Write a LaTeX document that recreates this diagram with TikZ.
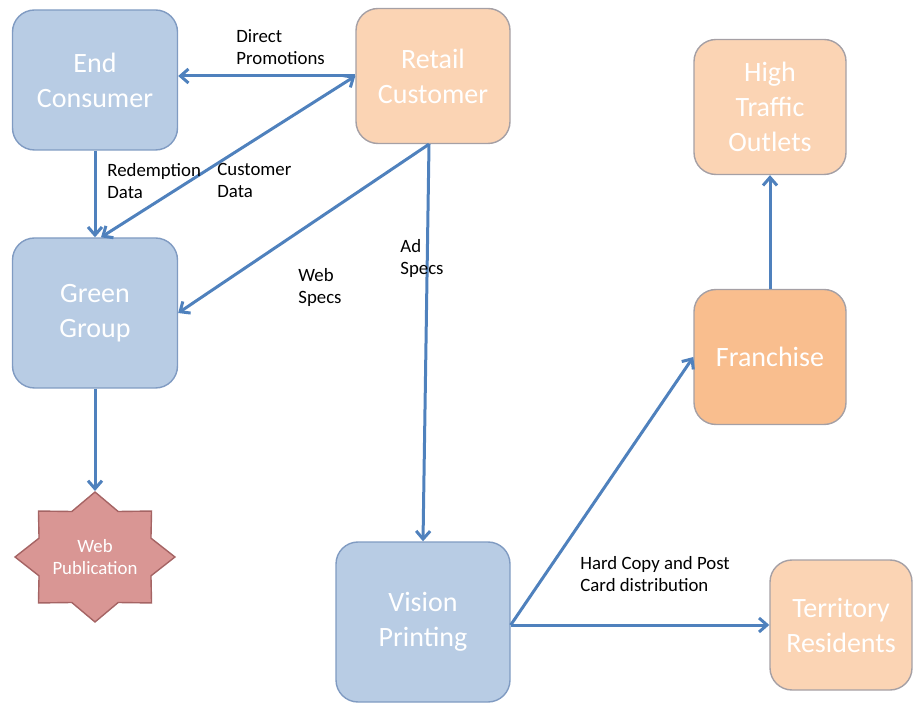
\documentclass[tikz,border=0pt]{standalone}
\usepackage{fontspec}
\setmainfont{Carlito}
\usetikzlibrary{arrows.meta, shapes.geometric, positioning}

\definecolor{boxblue}{RGB}{184,204,228}
\definecolor{lineblue}{RGB}{128,155,194}
\definecolor{boxpeach}{RGB}{251,212,180}
\definecolor{boxorange}{RGB}{249,190,142}
\definecolor{linepeach}{RGB}{165,160,165}
\definecolor{starred}{RGB}{217,150,148}
\definecolor{linered}{RGB}{165,100,100}
\definecolor{arrowblue}{RGB}{79,129,189}

\tikzset{
  box/.style={rectangle, rounded corners=11pt, line width=0.7pt, align=center,
    text=white, font=\fontsize{14}{17.5}\selectfont},
  bluebox/.style={box, draw=lineblue, fill=boxblue},
  peachbox/.style={box, draw=linepeach, fill=boxpeach},
  webstar/.style={star, star points=8, star point ratio=1.32, minimum size=65pt,
    inner sep=0pt, draw=linered, line width=0.7pt, fill=starred, xscale=1.23, transform shape},
  flow/.style={draw=arrowblue, line width=1.5pt, -{Straight Barb[length=4pt, width=7pt]}},
  lab/.style={anchor=north west, inner sep=0pt, align=left, font=\fontsize{9.4}{11}\selectfont}
}

\begin{document}
\begin{tikzpicture}[x=0.5pt, y=-0.5pt]
	\useasboundingbox (0,0) rectangle (914,704);
	\node (ec) at (95,80)[bluebox, minimum width=82.5pt, minimum height=70pt]{End\\Consumer};
	\node (rc) at (433,76)[peachbox, minimum width=77pt, minimum height=67.5pt]{Retail\\Customer};
	\node (gg) at (95,313)[bluebox, minimum width=82.5pt, minimum height=75pt]{Green\\Group};
	\node (wp) at (95,557)[webstar]{};
	\node (wpt) at (95,557)[text=white, align=center, font=\fontsize{9.4}{11}\selectfont]{Web\\Publication};
	\node (vp) at (423,622)[bluebox, minimum width=87pt, minimum height=80pt]{Vision\\Printing};
	\node (hto) at (770,107)[peachbox, minimum width=76pt, minimum height=67.5pt]{High\\Traffic\\Outlets};
	\node (fr) at (770,357)[peachbox, fill=boxorange, minimum width=76pt, minimum height=67.5pt]{Franchise};
	\node (tr) at (841,625)[peachbox, minimum width=71pt, minimum height=65pt]{Territory\\Residents};

	\draw[flow] (rc.west) -- (rc.west -| ec.east);
	\draw[flow] (ec.south) -- (gg.north);
	\draw[flow, {Straight Barb[length=4pt, width=7pt]}-{Straight Barb[length=4pt, width=7pt]}] ([xshift=3pt]gg.north) -- (rc.west);
	\draw[flow] ([xshift=-2pt]rc.south) -- (gg.east);
	\draw[flow] ([xshift=-2pt]rc.south) -- (vp.north);
	\draw[flow] (gg.south) -- (wp.north);
	\draw[flow] ([yshift=-1.5pt]vp.east) -- (fr.west);
	\draw[flow] ([yshift=-1.5pt]vp.east) -- (tr.west);
	\draw[flow] (fr.north) -- (hto.south);

	\node (l1) at (236,29)[lab]{Direct\\Promotions};
	\node (l2) at (107,163)[lab]{Redemption\\Data};
	\node (l3) at (217,163)[lab]{Customer\\Data};
	\node (l4) at (298,268)[lab]{Web\\Specs};
	\node (l5) at (400,239)[lab]{Ad\\Specs};
	\node (l6) at (580,556)[lab]{Hard Copy and Post\\Card distribution};
\end{tikzpicture}
\end{document}
